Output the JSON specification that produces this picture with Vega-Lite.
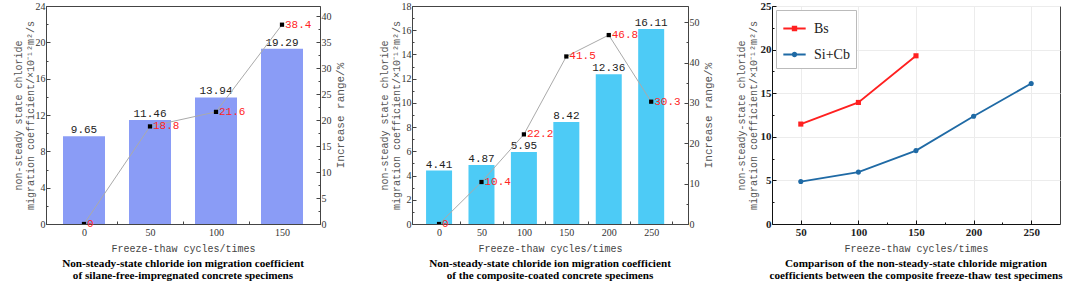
{
  "$schema": "https://vega.github.io/schema/vega-lite/v6.json",
  "background": "white",
  "padding": {"left": 12, "top": -1, "right": 0, "bottom": 2},
  "bounds": "flush",
  "spacing": 92,
  "resolve": {"scale": {"color": "independent", "shape": "independent"}, "legend": {"color": "independent", "shape": "independent"}},
  "config": {
    "view": {"stroke": "#444", "strokeWidth": 1},
    "axis": {
      "grid": false,
      "domainColor": "#444",
      "tickColor": "#444",
      "labelFont": "Liberation Serif",
      "labelFontSize": 10,
      "labelColor": "#333",
      "labelOverlap": false,
      "titleFont": "Liberation Mono",
      "titleFontSize": 10,
      "titleFontWeight": "normal",
      "titleColor": "#555",
      "labelPadding": 3
    },
    "title": {"font": "Liberation Serif", "fontSize": 11.2, "fontWeight": "bold", "color": "#000", "lineHeight": 12, "offset": 5}
  },
  "hconcat": [
    {
      "width": 274,
      "height": 218,
      "title": {"text": ["Non-steady-state chloride ion migration coefficient", "of silane-free-impregnated concrete specimens"], "orient": "bottom", "anchor": "middle"},
      "data": {"values": [
        {"cycles": 0, "coef": 9.65, "inc": 0},
        {"cycles": 50, "coef": 11.46, "inc": 18.8},
        {"cycles": 100, "coef": 13.94, "inc": 21.6},
        {"cycles": 150, "coef": 19.29, "inc": 38.4}
      ]},
      "encoding": {
        "x": {"field": "cycles", "type": "quantitative", "scale": {"domain": [-25, 175], "nice": false, "zero": false},
          "axis": {"values": [0, 25, 50, 75, 100, 125, 150], "labelExpr": "datum.value % 50 === 0 ? datum.label : ''", "labelOverlap": false,
            "tickColor": {"condition": {"test": "datum.value % 50 === 0", "value": "transparent"}, "value": "#444"},
            "tickSize": -3, "labelPadding": 6, "title": "Freeze-thaw cycles/times", "titlePadding": 6, "titleColor": "#444"}}
      },
      "layer": [
        {
          "encoding": {"y": {"field": "coef", "type": "quantitative", "scale": {"domain": [0, 24], "nice": false},
            "axis": {"values": [0, 2, 4, 6, 8, 10, 12, 14, 16, 18, 20, 22, 24], "labelExpr": "datum.value % 4 === 0 ? datum.label : ''", "labelOverlap": false,
              "tickSize": {"condition": {"test": "datum.value % 4 === 0", "value": -4}, "value": -2},
              "labelPadding": 5,
              "title": ["non-steady state chloride", "migration coefficient/×10⁻¹²m²/s"], "titlePadding": 0}}},
          "layer": [
            {"mark": {"type": "bar", "width": 42, "color": "#8a9cf6"}},
            {"mark": {"type": "text", "baseline": "alphabetic", "dy": -3, "font": "Liberation Mono", "fontSize": 11, "color": "#222"},
             "encoding": {"text": {"field": "coef", "type": "quantitative", "format": ".2f"}}}
          ]
        },
        {
          "encoding": {"y": {"field": "inc", "type": "quantitative", "scale": {"domain": [0, 42], "nice": false},
            "axis": {"orient": "right", "values": [0, 2.5, 5, 7.5, 10, 12.5, 15, 17.5, 20, 22.5, 25, 27.5, 30, 32.5, 35, 37.5, 40],
              "labelExpr": "datum.value % 5 === 0 ? datum.label : ''", "labelOverlap": false,
              "tickSize": {"condition": {"test": "datum.value % 5 === 0", "value": -4}, "value": -2},
              "labelPadding": 5,
              "title": "Increase range/%", "titleAngle": 270, "titleBaseline": "top", "titlePadding": 3, "titleFontSize": 11}}},
          "layer": [
            {"mark": {"type": "line", "color": "#aaaaaa", "strokeWidth": 1}},
            {"mark": {"type": "square", "size": 18, "color": "#000", "opacity": 1, "clip": true}},
            {"mark": {"type": "text", "align": "left", "baseline": "middle", "dx": 3, "font": "Liberation Mono", "fontSize": 11, "color": "#ff2424"},
             "encoding": {"text": {"field": "inc", "type": "quantitative"}}}
          ]
        }
      ],
      "resolve": {"scale": {"y": "independent"}}
    },
    {
      "bounds": "flush",
      "spacing": 84,
      "resolve": {"scale": {"color": "independent", "shape": "independent"}, "legend": {"color": "independent", "shape": "independent"}},
      "hconcat": [
        {
          "width": 276,
          "height": 218,
          "title": {"text": ["Non-steady-state chloride ion migration coefficient", "of the composite-coated concrete specimens"], "orient": "bottom", "anchor": "middle"},
          "data": {"values": [
            {"cycles": 0, "coef": 4.41, "inc": 0},
            {"cycles": 50, "coef": 4.87, "inc": 10.4},
            {"cycles": 100, "coef": 5.95, "inc": 22.2},
            {"cycles": 150, "coef": 8.42, "inc": 41.5},
            {"cycles": 200, "coef": 12.36, "inc": 46.8},
            {"cycles": 250, "coef": 16.11, "inc": 30.3}
          ]},
          "encoding": {
            "x": {"field": "cycles", "type": "quantitative", "scale": {"domain": [-26, 287.5], "nice": false, "zero": false},
              "axis": {"values": [0, 25, 50, 75, 100, 125, 150, 175, 200, 225, 250, 275], "labelExpr": "datum.value % 50 === 0 ? datum.label : ''", "labelOverlap": false,
                "tickColor": {"condition": {"test": "datum.value % 50 === 0", "value": "transparent"}, "value": "#444"},
                "tickSize": -3, "labelPadding": 6, "title": "Freeze-thaw cycles/times", "titlePadding": 6, "titleColor": "#444"}}
          },
          "layer": [
            {
              "encoding": {"y": {"field": "coef", "type": "quantitative", "scale": {"domain": [0, 18], "nice": false},
                "axis": {"values": [0, 1, 2, 3, 4, 5, 6, 7, 8, 9, 10, 11, 12, 13, 14, 15, 16, 17, 18], "labelExpr": "datum.value % 2 === 0 ? datum.label : ''", "labelOverlap": false,
                  "tickSize": {"condition": {"test": "datum.value % 2 === 0", "value": -4}, "value": -2},
                  "labelPadding": 5,
                  "title": ["non-steady state chloride", "migration coefficient/×10⁻¹²m²/s"], "titlePadding": 0}}},
              "layer": [
                {"mark": {"type": "bar", "width": 26, "color": "#4dcbf6"}},
                {"mark": {"type": "text", "baseline": "alphabetic", "dy": -3, "font": "Liberation Mono", "fontSize": 11, "color": "#222"},
                 "encoding": {"text": {"field": "coef", "type": "quantitative", "format": ".2f"}}}
              ]
            },
            {
              "encoding": {"y": {"field": "inc", "type": "quantitative", "scale": {"domain": [0, 54], "nice": false},
                "axis": {"orient": "right", "values": [0, 5, 10, 15, 20, 25, 30, 35, 40, 45, 50],
                  "labelExpr": "datum.value % 10 === 0 ? datum.label : ''", "labelOverlap": false,
                  "tickSize": {"condition": {"test": "datum.value % 10 === 0", "value": -4}, "value": -2},
                  "labelPadding": 5,
                  "title": "Increase range/%", "titleAngle": 270, "titleBaseline": "top", "titlePadding": 3, "titleFontSize": 11}}},
              "layer": [
                {"mark": {"type": "line", "color": "#aaaaaa", "strokeWidth": 1}},
                {"mark": {"type": "square", "size": 18, "color": "#000", "opacity": 1, "clip": true}},
                {"mark": {"type": "text", "align": "left", "baseline": "middle", "dx": 3, "font": "Liberation Mono", "fontSize": 11, "color": "#ff2424"},
                 "encoding": {"text": {"field": "inc", "type": "quantitative"}}}
              ]
            }
          ],
          "resolve": {"scale": {"y": "independent"}}
        },
        {
          "width": 288,
          "height": 218,
          "title": {"text": ["Comparison of the non-steady-state chloride migration", "coefficients between the composite freeze-thaw test specimens"], "orient": "bottom", "anchor": "middle"},
          "data": {"values": [
            {"series": "Bs", "cycles": 50, "coef": 11.46},
            {"series": "Bs", "cycles": 100, "coef": 13.94},
            {"series": "Bs", "cycles": 150, "coef": 19.29},
            {"series": "Si+Cb", "cycles": 50, "coef": 4.87},
            {"series": "Si+Cb", "cycles": 100, "coef": 5.95},
            {"series": "Si+Cb", "cycles": 150, "coef": 8.42},
            {"series": "Si+Cb", "cycles": 200, "coef": 12.36},
            {"series": "Si+Cb", "cycles": 250, "coef": 16.11}
          ]},
          "encoding": {
            "x": {"field": "cycles", "type": "quantitative", "scale": {"domain": [25, 275], "nice": false, "zero": false},
              "axis": {"values": [50, 75, 100, 125, 150, 175, 200, 225, 250], "labelExpr": "datum.value % 50 === 0 ? datum.label : ''", "labelOverlap": false,
                "tickSize": {"condition": {"test": "datum.value % 50 === 0", "value": -4}, "value": -2},
                "domainColor": "#111", "tickColor": "#111",
                "labelFontWeight": "bold", "labelFontSize": 11, "labelColor": "#222", "labelPadding": 6,
                "grid": true, "gridColor": {"condition": {"test": "datum.value % 50 === 0", "value": "#ececec"}, "value": "transparent"},
                "title": "Freeze-thaw cycles/times", "titlePadding": 4, "titleColor": "#444"}},
            "y": {"field": "coef", "type": "quantitative", "scale": {"domain": [0, 25], "nice": false},
              "axis": {"values": [0, 2.5, 5, 7.5, 10, 12.5, 15, 17.5, 20, 22.5, 25], "labelExpr": "datum.value % 5 === 0 ? datum.label : ''", "labelOverlap": false,
                "tickSize": {"condition": {"test": "datum.value % 5 === 0", "value": -4}, "value": -2},
                "domainColor": "#111", "tickColor": "#111",
                "labelFontWeight": "bold", "labelFontSize": 11, "labelColor": "#222", "labelPadding": 5,
                "grid": true, "gridColor": {"condition": {"test": "datum.value % 5 === 0", "value": "#ececec"}, "value": "transparent"},
                "title": ["non-steady-state chloride", "migration coefficient/×10⁻¹²m²/s"], "titlePadding": 2}},
            "color": {"field": "series", "type": "nominal", "scale": {"domain": ["Bs", "Si+Cb"], "range": ["#ff2020", "#1f6aa5"]},
              "legend": {"title": null, "orient": "top-left", "offset": 4, "padding": 6, "strokeColor": "#bbbbbb", "fillColor": "white",
                "labelFont": "Liberation Serif", "labelFontSize": 14, "labelColor": "#222", "symbolSize": 500, "labelOffset": 7, "rowPadding": 6,
                "encode": {"symbols": {"update": {
                  "shape": {"signal": "datum.value === 'Bs' ? 'M-1,0H1M-0.15,-0.15H0.15V0.15H-0.15Z' : 'M-1,0H1M0.15,0A0.15,0.15,0,1,1,-0.15,0A0.15,0.15,0,1,1,0.15,0Z'"},
                  "stroke": {"signal": "datum.value === 'Bs' ? '#ff2020' : '#1f6aa5'"},
                  "strokeWidth": {"value": 2}}}}}}
          },
          "layer": [
            {"mark": {"type": "line", "strokeWidth": 1.8}},
            {"transform": [{"filter": "datum.series === 'Bs'"}],
             "mark": {"type": "point", "shape": "square", "filled": true, "size": 26, "opacity": 1}},
            {"transform": [{"filter": "datum.series === 'Si+Cb'"}],
             "mark": {"type": "point", "shape": "circle", "filled": true, "size": 26, "opacity": 1}}
          ]
        }
      ]
    }
  ]
}
